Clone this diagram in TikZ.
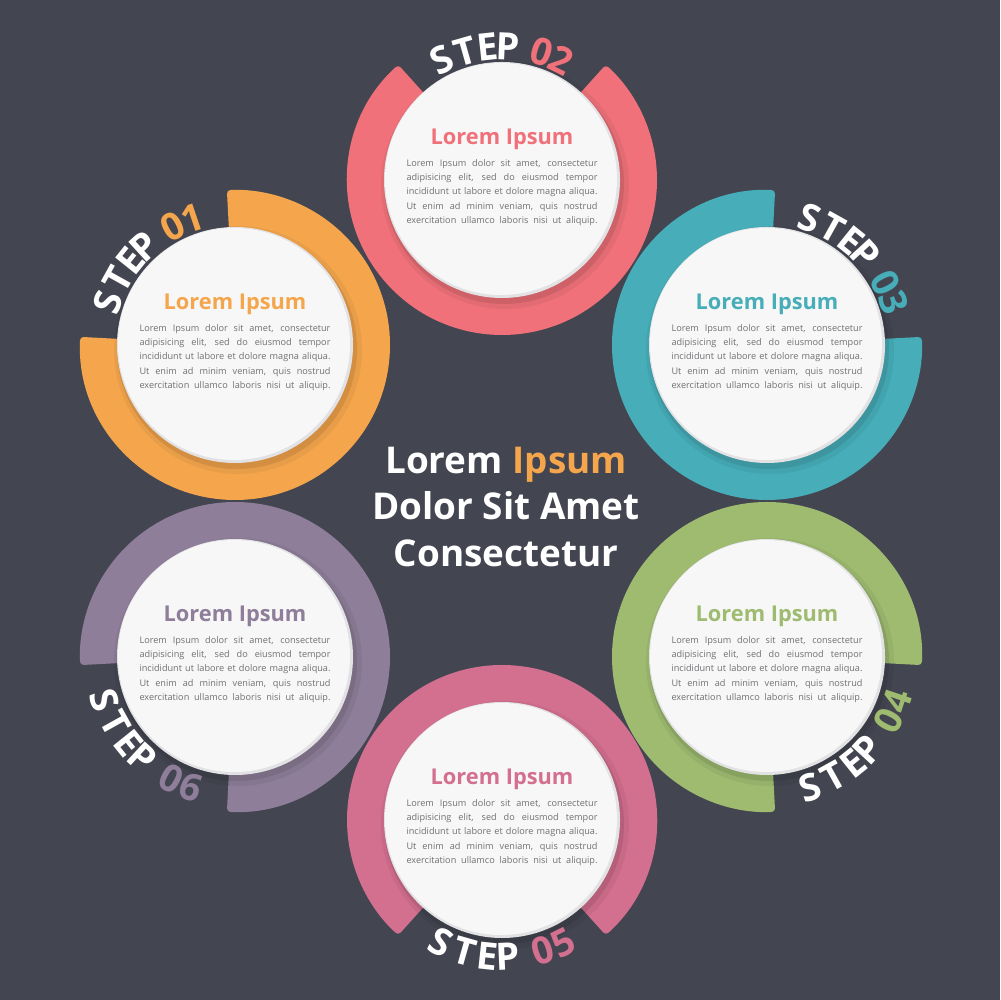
\documentclass[tikz,border=0pt]{standalone}
\usepackage{fontspec}
\setmainfont{Open Sans}
\usetikzlibrary{calc}

\definecolor{bgDark}{RGB}{67, 69, 81}
\definecolor{discWhite}{RGB}{247, 247, 247}
\definecolor{discRim}{RGB}{226, 226, 228}
\definecolor{textGray}{RGB}{112, 112, 116}
\definecolor{stepOrange}{RGB}{245, 166, 76}
\definecolor{stepCoral}{RGB}{240, 113, 122}
\definecolor{stepTeal}{RGB}{70, 173, 185}
\definecolor{stepGreen}{RGB}{158, 187, 112}
\definecolor{stepRose}{RGB}{211, 111, 143}
\definecolor{stepMauve}{RGB}{142, 126, 153}

\def\ringR{155}
\def\ringIn{100}
\def\gapHalf{42}
\def\bodyW{3.82cm}

\tikzset{
    stepChar/.style={
        font=\fontsize{21.5}{21.5}\selectfont\bfseries,
        inner sep=0pt,
        anchor=center
    },
    discTitle/.style={
        font=\fontsize{12.4}{14}\selectfont\bfseries,
        inner sep=0pt
    },
    discBody/.style={
        font=\fontsize{5.2}{8.1}\selectfont,
        text=textGray,
        align=center,
        inner sep=0pt
    },
    centerText/.style={
        font=\fontsize{21}{26.7}\selectfont\bfseries,
        text=white,
        align=center,
        inner sep=0pt
    }
}

% body text of every disc, each line stretched to the full width
\newcommand{\loremLines}{%
    \makebox[\bodyW][s]{Lorem Ipsum dolor sit amet, consectetur}\\
    \makebox[\bodyW][s]{adipisicing elit, sed do eiusmod tempor}\\
    \makebox[\bodyW][s]{incididunt ut labore et dolore magna aliqua.}\\
    \makebox[\bodyW][s]{Ut enim ad minim veniam, quis nostrud}\\
    \makebox[\bodyW][s]{exercitation ullamco laboris nisi ut aliquip.}%
}

% #1 centre, #2 angle of the gap, #3 colour
\newcommand{\stepRing}[3]{%
    \fill[#3, rounded corners=2pt]
        ($(#1)+({#2+\gapHalf}:\ringR)$) arc[start angle={#2+\gapHalf}, end angle={#2+360-\gapHalf}, radius=\ringR]
        -- ($(#1)+({#2-\gapHalf}:\ringIn)$) arc[start angle={#2+360-\gapHalf}, end angle={#2+\gapHalf}, radius=\ringIn]
        -- cycle;
}

% #1 centre, #2 colour, #3 suffix of the node names
\newcommand{\stepDisc}[3]{%
    \fill[black, opacity=.05] ($(#1)+(3,-5)$) circle[radius=124];
    \fill[black, opacity=.09] ($(#1)+(2,-4)$) circle[radius=120];
    \fill[discRim] (#1) circle[radius=118];
    \fill[discWhite] ($(#1)+(-1,1)$) circle[radius=116];
    \node[discTitle, text=#2] (title#3) at ($(#1)+(0,41)$) {Lorem Ipsum};
    \node[discBody] (body#3) at ($(#1)+(0,-12.5)$) {\loremLines};
}

% #1 centre, #2 angle of the gap, #3 side (1 top, -1 bottom), #4 radius, #5 colour, #6 #7 digits
\newcommand{\stepLabel}[7]{%
    \foreach \ch/\off/\col in {S/26.6/white, T/15.9/white, E/6.2/white, P/-2.5/white, #6/-17.4/#5, #7/-26.4/#5}
        \node[stepChar, text=\col, rotate={#2+(#3)*\off-(#3)*90}]
            at ($(#1)+({#2+(#3)*\off}:#4)$) {\ch};
}

\begin{document}
\begin{tikzpicture}[x=0.02cm, y=0.02cm]
    \useasboundingbox (0,0) rectangle (1000,1000);
    \fill[bgDark] (0,0) rectangle (1000,1000);

    \coordinate (c01) at (235, 655);
    \coordinate (c02) at (502, 820);
    \coordinate (c03) at (767, 655);
    \coordinate (c04) at (767, 343);
    \coordinate (c05) at (502, 180);
    \coordinate (c06) at (235, 343);

    % Rings
    \stepRing{c01}{135}{stepOrange}
    \stepRing{c02}{90}{stepCoral}
    \stepRing{c03}{45}{stepTeal}
    \stepRing{c04}{-45}{stepGreen}
    \stepRing{c05}{270}{stepRose}
    \stepRing{c06}{225}{stepMauve}

    % Discs
    \stepDisc{c01}{stepOrange}{01}
    \stepDisc{c02}{stepCoral}{02}
    \stepDisc{c03}{stepTeal}{03}
    \stepDisc{c04}{stepGreen}{04}
    \stepDisc{c05}{stepRose}{05}
    \stepDisc{c06}{stepMauve}{06}

    % Step labels
    \stepLabel{c01}{135}{1}{134}{stepOrange}{0}{1}
    \stepLabel{c02}{90}{1}{134}{stepCoral}{0}{2}
    \stepLabel{c03}{45}{1}{134}{stepTeal}{0}{3}
    \stepLabel{c04}{-45}{-1}{137}{stepGreen}{0}{4}
    \stepLabel{c05}{270}{-1}{137}{stepRose}{0}{5}
    \stepLabel{c06}{225}{-1}{137}{stepMauve}{0}{6}

    \node[centerText] (headline) at (506, 493) {Lorem \textcolor{stepOrange}{Ipsum}\\Dolor Sit Amet\\Consectetur};
\end{tikzpicture}
\end{document}
